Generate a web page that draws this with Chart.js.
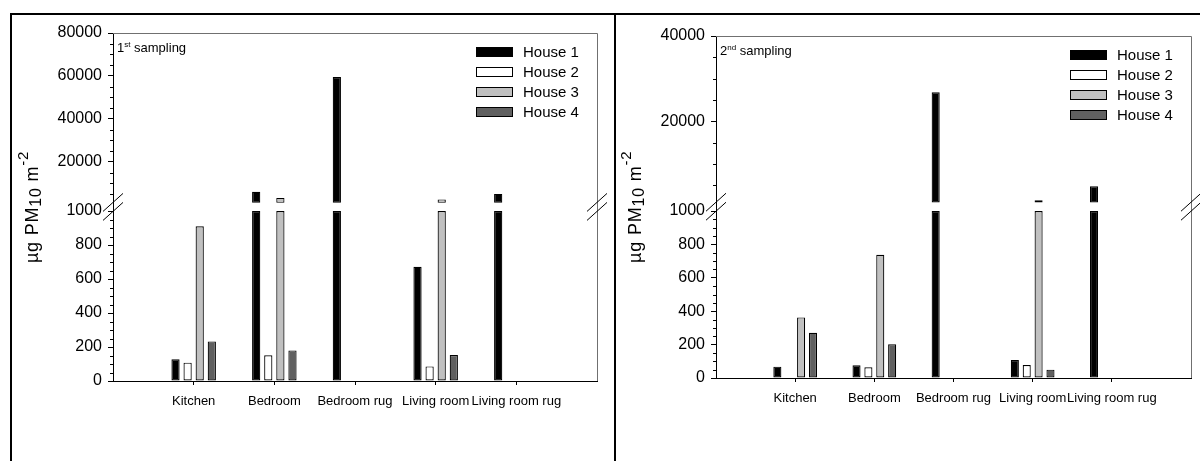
<!DOCTYPE html>
<html>
<head>
<meta charset="utf-8">
<script src="https://cdn.jsdelivr.net/npm/chart.js@4.4.0/dist/chart.umd.min.js"></script>
<style>
  body { margin: 0; background: #fff; width: 1200px; height: 461px; overflow: hidden; position: relative; }
  #frame { position: absolute; left: 10px; top: 13px; width: 1200px; height: 460px; border-top: 2px solid #000; border-left: 2px solid #000; }
  #divider { position: absolute; left: 614px; top: 13px; width: 2px; height: 460px; background: #000; }
  .panel { position: absolute; top: 15px; height: 446px; }
  #p1 { left: 12px; width: 602px; }
  #p2 { left: 616px; width: 584px; }
</style>
</head>
<body>
<div id="frame"></div>
<div id="divider"></div>
<div class="panel" id="p1"><canvas id="chart1"></canvas></div>
<div class="panel" id="p2"><canvas id="chart2"></canvas></div>
<script>
const rooms = ['Kitchen', 'Bedroom', 'Bedroom rug', 'Living room', 'Living room rug'];
const houses = ['House 1', 'House 2', 'House 3', 'House 4'];

// 1st sampling (µg PM10 m-2)
const s1House1 = [128, 6100, 59500, 672, 5150];
const s1House2 = [108, 151, 0, 86, 0];
const s1House3 = [910, 3300, 0, 2600, 0];
const s1House4 = [233, 180, 0, 153, 0];

// 2nd sampling
const s2House1 = [68, 76, 26800, 108, 4800];
const s2House2 = [0, 64, 0, 78, 0];
const s2House3 = [363, 738, 0, 1500, 0];
const s2House4 = [271, 202, 0, 50, 0];

const lowTicks = [0, 200, 400, 600, 800, 1000];
const highTicks1 = [20000, 40000, 60000, 80000];
const highTicks2 = [20000, 40000];
const breakAt = 1000;

const fills = ['#000000', '#ffffff', '#c0c0c0', '#606060'];
const FONT = '"Liberation Sans", Arial, sans-serif';

// axis title, sampling label, legend, minor ticks, break marks
const panelDecor = {
  id: 'panelDecor',
  afterDraw(chart, args, opts) {
    const { ctx, chartArea: a } = chart;
    const low = chart.scales.yLow, high = chart.scales.yHigh;
    const baseY = high.getPixelForValue(breakAt);
    const yc = (baseY + low.top) / 2;
    ctx.save();

    // top / right frame of plot
    ctx.strokeStyle = '#707070';
    ctx.lineWidth = 1;
    ctx.beginPath();
    ctx.moveTo(a.left, a.top + 0.5);
    ctx.lineTo(a.right + 0.5, a.top + 0.5);
    ctx.lineTo(a.right + 0.5, a.bottom);
    ctx.stroke();

    // minor ticks
    ctx.strokeStyle = '#000';
    ctx.beginPath();
    for (let v = 50; v < 1000; v += 50) {
      if (v % 200 === 0) continue;
      const y = Math.round(low.getPixelForValue(v)) + 0.5;
      ctx.moveTo(a.left - 3, y); ctx.lineTo(a.left, y);
    }
    for (let v = 5000; v < high.max; v += 5000) {
      if (v % 20000 === 0) continue;
      const y = Math.round(high.getPixelForValue(v)) + 0.5;
      ctx.moveTo(a.left - 3, y); ctx.lineTo(a.left, y);
    }
    ctx.stroke();

    // axis break marks
    ctx.beginPath();
    [a.left, a.right].forEach(x => {
      [-4.5, 4.5].forEach(d => {
        ctx.moveTo(x - 10, yc + d + 9);
        ctx.lineTo(x + 10, yc + d - 9);
      });
    });
    ctx.stroke();

    // legend
    const lx = a.right - 121;
    houses.forEach((h, i) => {
      const y = Math.round(a.top + 18.5 + i * 20.3);
      ctx.fillStyle = fills[i];
      ctx.fillRect(lx, y - 5, 37, 10);
      ctx.strokeStyle = '#000';
      ctx.strokeRect(lx + 0.5, y - 4.5, 36, 9);
      ctx.fillStyle = '#000';
      ctx.font = '15px ' + FONT;
      ctx.textBaseline = 'middle';
      ctx.textAlign = 'left';
      ctx.fillText(h, lx + 47, y + 1);
    });

    // sampling label
    ctx.textBaseline = 'alphabetic';
    let x = a.left + 4;
    const by = a.top + 19;
    ctx.font = '13px ' + FONT;
    ctx.fillText(opts.num, x, by);
    x += ctx.measureText(opts.num).width;
    ctx.font = '8px ' + FONT;
    ctx.fillText(opts.sup, x, by - 5);
    x += ctx.measureText(opts.sup).width;
    ctx.font = '13px ' + FONT;
    ctx.fillText(' sampling', x, by);

    // y title (rotated)
    const parts = [['µg PM', 18, 0], ['10', 16, 3], [' m', 18, 0], ['-2', 15, -10]];
    const gap = 0.8;
    ctx.translate(a.left - 75, yc);
    ctx.rotate(-Math.PI / 2);
    let total = 0;
    parts.forEach(p => { ctx.font = p[1] + 'px ' + FONT; total += ctx.measureText(p[0]).width + gap * p[0].length; });
    let cx = -total / 2;
    parts.forEach(p => {
      ctx.font = p[1] + 'px ' + FONT;
      for (const ch of p[0]) {
        ctx.fillText(ch, cx, p[2]);
        cx += ctx.measureText(ch).width + gap;
      }
    });
    ctx.restore();
  }
};

function panelChart(id, series, highMin, highMax, highTicks, weights, pad, num, sup) {
  const labels = ['', ...rooms, ''];
  const datasets = [];
  series.forEach((vals, i) => {
    datasets.push({
      label: houses[i],
      yAxisID: 'yLow',
      stack: 'h' + i,
      data: [null, ...vals.map(v => Math.min(v, breakAt)), null],
      backgroundColor: fills[i],
      borderColor: '#000',
      borderWidth: 1.2,
      borderSkipped: false
    });
  });
  series.forEach((vals, i) => {
    datasets.push({
      label: houses[i],
      yAxisID: 'yHigh',
      stack: 'h' + i,
      base: breakAt,
      data: [null, ...vals.map(v => (v > breakAt ? v : null)), null],
      backgroundColor: fills[i],
      borderColor: '#000',
      borderWidth: 1.2,
      borderSkipped: false
    });
  });

  const yCommon = {
    type: 'linear',
    position: 'left',
    stack: 'v',
    stacked: false,
    grid: { drawOnChartArea: false, drawTicks: true, tickLength: 5, tickColor: '#000' },
    border: { color: '#000', width: 1 },
    ticks: { color: '#000', font: { family: FONT, size: 16 }, padding: 6, autoSkip: false, callback: v => String(v) },
    afterFit: s => { s.width = 60; }
  };

  return new Chart(document.getElementById(id), {
    type: 'bar',
    data: { labels, datasets },
    options: {
      responsive: true,
      maintainAspectRatio: false,
      animation: false,
      events: [],
      categoryPercentage: 0.6,
      barPercentage: 0.68,
      layout: { padding: pad },
      plugins: {
        legend: { display: false },
        tooltip: { enabled: false },
        panelDecor: { num, sup }
      },
      scales: {
        x: {
          offset: false,
          grid: {
            offset: false,
            drawOnChartArea: false,
            drawTicks: true,
            tickLength: 4,
            tickColor: c => (c.index > 0 && c.index <= rooms.length ? '#000' : 'rgba(0,0,0,0)')
          },
          border: { color: '#000', width: 1 },
          ticks: { color: '#000', font: { family: FONT, size: 13 }, padding: 9, maxRotation: 0, autoSkip: false },
          afterFit: s => { s.height = 40; }
        },
        // stacked axes are placed bottom-up in this order
        yLow: {
          ...yCommon,
          stackWeight: weights[1],
          min: 0,
          max: 1000,
          afterBuildTicks: s => { s.ticks = lowTicks.map(v => ({ value: v })); }
        },
        yHigh: {
          ...yCommon,
          stackWeight: weights[0],
          min: highMin,
          max: highMax,
          afterBuildTicks: s => { s.ticks = highTicks.map(v => ({ value: v })); }
        }
      }
    },
    plugins: [panelDecor]
  });
}

panelChart('chart1', [s1House1, s1House2, s1House3, s1House4], -2800, 80000, highTicks1,
  [178, 170], { left: 41, top: 18, right: 17, bottom: 40 }, '1', 'st');
panelChart('chart2', [s2House1, s2House2, s2House3, s2House4], -1000, 40000, highTicks2,
  [175, 167], { left: 40, top: 21, right: 8, bottom: 43 }, '2', 'nd');
</script>
</body>
</html>
